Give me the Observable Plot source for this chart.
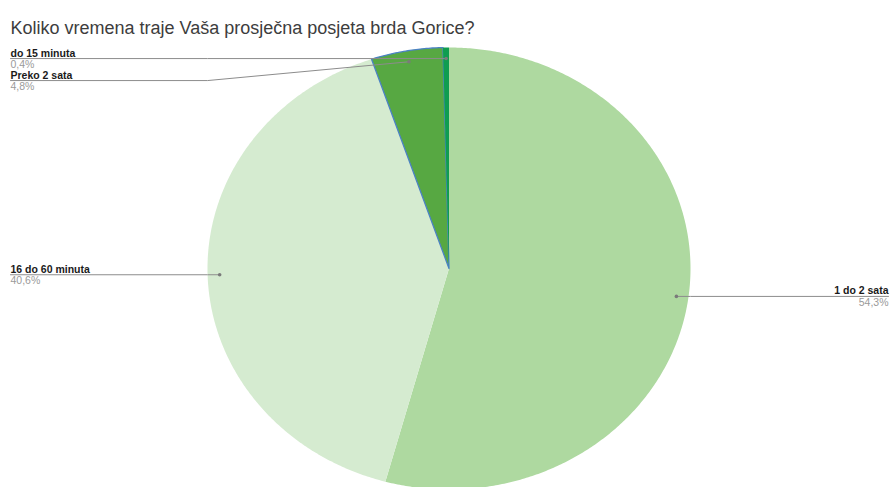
<!DOCTYPE html>
<html>
<head>
<meta charset="utf-8">
<script src="https://cdn.jsdelivr.net/npm/d3@7"></script>
<script src="https://cdn.jsdelivr.net/npm/@observablehq/plot@0.6"></script>
<style>
  html, body { margin: 0; padding: 0; background: #fff; }
  #chart svg { display: block; font-family: "Liberation Sans", Arial, sans-serif; }
</style>
</head>
<body>
<div id="chart"></div>
<script>
const title = "Koliko vremena traje Vaša prosječna posjeta brda Gorice?";
const categories = ["1 do 2 sata", "16 do 60 minuta", "Preko 2 sata", "do 15 minuta"];
const values = [54.3, 40.6, 4.8, 0.4];
const percentLabels = ["54,3%", "40,6%", "4,8%", "0,4%"];
const colors = ["#aed9a0", "#d5ebd0", "#57a842", "#0f9d50"];
const outlines = ["none", "none", "#4b82c4", "none"];

const W = 891, H = 487;
const cx = 448.5, cy = 268, rx = 241.5, ry = 221;

const total = d3.sum(values);
let acc = 0;
const slices = categories.map((name, i) => {
  const a0 = acc / total * 2 * Math.PI;
  acc += values[i];
  const a1 = acc / total * 2 * Math.PI;
  const n = Math.max(2, Math.ceil((a1 - a0) / (Math.PI / 360)));
  const pts = [{x: 0, y: 0}];
  for (let k = 0; k <= n; k++) {
    const t = a0 + (a1 - a0) * k / n;
    pts.push({x: Math.sin(t), y: Math.cos(t)});
  }
  pts.push({x: 0, y: 0});
  const mid = (a0 + a1) / 2;
  return {name, pct: percentLabels[i], color: colors[i], outline: outlines[i], pts,
    side: mid < Math.PI ? "right" : "left",
    dot: {x: 0.95 * Math.sin(mid), y: 0.95 * Math.cos(mid)}};
});

// label placement with minimum vertical spacing
const minGap = 22 / ry;
for (const side of ["left", "right"]) {
  const s = slices.filter(d => d.side === side).sort((a, b) => b.dot.y - a.dot.y);
  let prev = Infinity;
  for (const d of s) {
    d.labelY = Math.min(d.dot.y, prev - minGap);
    prev = d.labelY;
  }
}
const leftEdge = (10 - cx) / rx, rightEdge = (888 - cx) / rx;
const leaders = slices.flatMap(d => {
  const edge = d.side === "left" ? leftEdge : rightEdge;
  const bend = d.side === "left" ? -1 : 1;
  return [
    {name: d.name, x: d.dot.x, y: d.dot.y},
    {name: d.name, x: bend, y: d.labelY},
    {name: d.name, x: edge, y: d.labelY}
  ];
});
const labels = slices.map(d => ({
  name: d.name, pct: d.pct,
  x: d.side === "left" ? leftEdge : rightEdge,
  y: d.labelY,
  anchor: d.side === "left" ? "start" : "end"
}));

const marks = [];
for (const s of slices) {
  marks.push(Plot.line(s.pts, {x: "x", y: "y", fill: s.color, stroke: s.outline, strokeWidth: 1.3, curve: "linear"}));
}
marks.push(Plot.line(leaders, {x: "x", y: "y", z: "name", stroke: "#8c8c8c", strokeWidth: 1}));
marks.push(Plot.dot(slices.map(d => d.dot), {x: "x", y: "y", r: 1.8, fill: "#7a7a7a"}));
for (const a of ["start", "end"]) {
  const L = labels.filter(d => d.anchor === a);
  marks.push(Plot.text(L, {x: "x", y: "y", text: "name", textAnchor: a, lineAnchor: "bottom", dy: -2,
    fontSize: 10.5, fontWeight: "bold", fill: "#1a1a1a"}));
  marks.push(Plot.text(L, {x: "x", y: "y", text: "pct", textAnchor: a, lineAnchor: "top", dy: 2,
    fontSize: 10.5, fill: "#9a9a9a"}));
}
marks.push(Plot.text([title], {frameAnchor: "top-left", text: d => d, dx: 10, dy: 21,
  textAnchor: "start", fontSize: 18, fill: "#3d3d3d"}));

const chart = Plot.plot({
  width: W, height: H,
  marginLeft: 0, marginRight: 0, marginTop: 0, marginBottom: 0,
  x: {domain: [(0 - cx) / rx, (W - cx) / rx], range: [0, W], axis: null},
  y: {domain: [(cy - H) / ry, cy / ry], range: [H, 0], axis: null},
  marks
});
document.getElementById("chart").appendChild(chart);
</script>
</body>
</html>
